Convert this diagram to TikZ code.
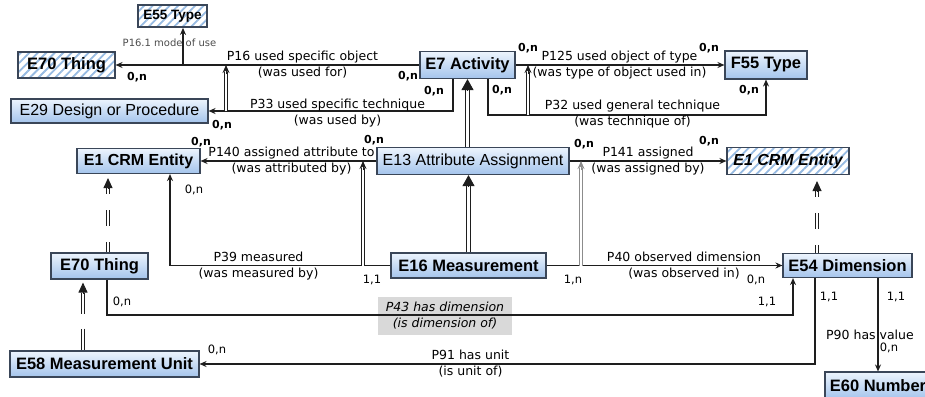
\documentclass[tikz,border=0pt]{standalone}
\usepackage{fontspec}
\setmainfont{Liberation Sans}
\newfontfamily\dv{DejaVu Sans}
\usetikzlibrary{arrows.meta,patterns.meta,calc}
\definecolor{boxtop}{RGB}{236,244,253}
\definecolor{boxbot}{RGB}{164,196,236}
\definecolor{boxline}{RGB}{58,70,88}
\definecolor{hatchc}{RGB}{150,186,226}
\definecolor{lblgray}{RGB}{217,217,217}
\definecolor{linec}{RGB}{30,30,30}
\begin{document}
\begin{tikzpicture}[x=1pt,y=-1pt,
  ent/.style={draw=boxline, line width=1.1pt, top color=boxtop, bottom color=boxbot,
    inner sep=0pt, font=\fontsize{16}{18}\selectfont},
  entb/.style={ent, font=\fontsize{16.5}{18}\selectfont\bfseries},
  hatb/.style={draw=boxline, line width=1.1pt, preaction={fill=white},
    pattern={Lines[angle=45,distance=6pt,line width=1.8pt]}, pattern color=hatchc,
    inner sep=0pt, font=\fontsize{16.5}{18}\selectfont\bfseries},
  con/.style={draw=linec, line width=1.2pt},
  arr/.style={con, -{Stealth[length=7pt,width=6pt]}},
  sub/.style={draw=linec, line width=1pt, double=white, double distance=2.4pt},
  subtip/.style={draw=linec, line width=1pt, -{Stealth[length=8pt,width=7pt]}},
  thk/.style={draw=linec, line width=1.4pt, double=white, double distance=2.6pt},
  thktip/.style={draw=linec, line width=1pt, -{Triangle[length=11pt,width=12pt]}},
  isa/.style={draw=linec, line width=1pt, double=white, double distance=2.2pt,
    dash pattern=on 16pt off 16pt},
  isatip/.style={draw=linec, line width=1pt, -{Triangle[length=10pt,width=9pt]}},
  lbl/.style={font=\dv\fontsize{12.5}{16}\selectfont, align=center, inner sep=0pt},
  card/.style={font=\dv\fontsize{11.5}{13}\selectfont, inner sep=0pt},
  cardb/.style={font=\dv\bfseries\fontsize{11}{13}\selectfont, inner sep=0pt}]
\useasboundingbox (0,0) rectangle (925,396);

% ---------- entity boxes ----------
\node[hatb, minimum width=69pt, minimum height=22pt, font=\fontsize{13.5}{15}\selectfont\bfseries] (E55) at (172.5,16) {E55 Type};
\node[hatb, minimum width=97pt, minimum height=26pt] (E70a) at (66.5,65) {E70 Thing};
\node[entb, minimum width=95pt, minimum height=27pt] (E7) at (467.5,65) {E7 Activity};
\node[entb, minimum width=82pt, minimum height=28pt] (F55) at (766,65) {F55 Type};
\node[ent, minimum width=197pt, minimum height=24pt] (E29) at (109.5,111) {E29 Design or Procedure};
\node[entb, minimum width=123pt, minimum height=25pt, font=\fontsize{16}{18}\selectfont\bfseries] (E1a) at (138.5,161) {E1 CRM Entity};
\node[ent, minimum width=192pt, minimum height=27pt] (E13) at (473,161) {E13 Attribute Assignment};
\node[hatb, minimum width=122pt, minimum height=27pt, font=\fontsize{16}{18}\selectfont\bfseries\itshape] (E1b) at (788,161) {E1 CRM Entity};
\node[entb, minimum width=97pt, minimum height=26pt] (E70b) at (99.5,266) {E70 Thing};
\node[entb, minimum width=155pt, minimum height=25pt] (E16) at (468.5,265.5) {E16 Measurement};
\node[entb, minimum width=129pt, minimum height=24pt] (E54) at (847.5,265.5) {E54 Dimension};
\node[entb, minimum width=189pt, minimum height=26pt] (E58) at (104.5,364) {E58 Measurement Unit};
\node[entb, minimum width=106pt, minimum height=27pt] (E60) at (878,385.5) {E60 Number};

% ---------- P43 grey label (below its line) ----------
\node[lbl, fill=lblgray, minimum width=134pt, minimum height=38pt, font=\dv\itshape\fontsize{12.5}{16}\selectfont] (L43) at (445,316) {P43 has dimension\\(is dimension of)};

% ---------- connectors ----------
% P16 and P16.1
\draw[arr] (E7.west) -- (E70a.east);
\coordinate (p161) at (183,65);
\draw[arr] (p161) -- (p161 |- E55.south);
% P33
\coordinate (p33s) at ([xshift=-14.5pt]E7.south);
\draw[arr] (p33s) |- (E29.east);
% P33 sub-property of P16
\coordinate (s1b) at (226,111);
\coordinate (s1t) at (226,65);
\draw[sub] (s1b) -- ($(s1t)+(0,7)$);
\draw[subtip] ($(s1t)+(0,9)$) -- (s1t);
% P125
\draw[arr] (E7.east) -- (F55.west);
% P32
\coordinate (p32s) at ([xshift=20.5pt]E7.south);
\coordinate (p32y) at (0,115);
\draw[arr] (p32s) |- (p32y -| F55.south) -- (F55.south);
% P32 sub-property of P125
\coordinate (s2b) at (528,115);
\coordinate (s2t) at (528,65);
\draw[sub] (s2b) -- ($(s2t)+(0,7)$);
\draw[subtip] ($(s2t)+(0,9)$) -- (s2t);
% E13 is-a E7
\coordinate (t1b) at (E13.north -| E7.south);
\draw[thk] (t1b) -- ($(E7.south)+(0,9)$);
\draw[thktip] ($(E7.south)+(0,11)$) -- (E7.south);
% E16 is-a E13
\coordinate (t2t) at (E13.south -| E16.north);
\draw[thk] (E16.north) -- ($(t2t)+(0,9)$);
\draw[thktip] ($(t2t)+(0,11)$) -- (t2t);
% P140
\draw[arr] (E13.west) -- (E1a.east);
% P39
\coordinate (p39t) at ([xshift=31.5pt]E1a.south);
\draw[arr] (E16.west) -| (p39t);
% P39 sub-property of P140
\coordinate (s3b) at (363,265.5);
\coordinate (s3t) at (363,161);
\draw[sub] (s3b) -- ($(s3t)+(0,7)$);
\draw[subtip] ($(s3t)+(0,9)$) -- (s3t);
% P141
\draw[arr] (E13.east) -- (E1b.west);
% P40
\draw[arr] (E16.east) -- (E54.west);
% P40 sub-property of P141 (grey)
\coordinate (s4b) at (581,265.5);
\coordinate (s4t) at (581,161);
\draw[sub, draw=black!45] (s4b) -- ($(s4t)+(0,7)$);
\draw[subtip, draw=black!45] ($(s4t)+(0,9)$) -- (s4t);
% E70 is-a E1
\coordinate (i1b) at ([xshift=8.5pt]E70b.north);
\coordinate (i1t) at ($(E1a.south -| i1b)+(0,4)$);
\draw[isa, dash phase=10pt] ($(i1t)+(0,10)$) -- (i1b);
\draw[isatip] ($(i1t)+(0,10)$) -- (i1t);
% E58 is-a E70
\coordinate (i2b) at ([xshift=-21.5pt]E58.north);
\coordinate (i2t) at ($(E70b.south -| i2b)+(0,3)$);
\draw[isa, dash pattern=on 21pt off 15pt] ($(i2t)+(0,10)$) -- (i2b);
\draw[isatip] ($(i2t)+(0,11)$) -- (i2t);
% E54 is-a E1
\coordinate (i3b) at ([xshift=-30.5pt]E54.north);
\coordinate (i3t) at ($(E1b.south -| i3b)+(0,6)$);
\draw[isa, dash phase=10pt] ($(i3t)+(0,10)$) -- (i3b);
\draw[isatip] ($(i3t)+(0,11)$) -- (i3t);
% P43
\coordinate (p43s) at ([xshift=7.5pt]E70b.south);
\coordinate (p43t) at ([xshift=-54.5pt]E54.south);
\coordinate (p43y) at (0,315);
\draw[arr] (p43s) |- (p43y -| p43t) -- (p43t);
% P91
\coordinate (p91s) at ([xshift=-32.5pt]E54.south);
\draw[arr] (p91s) |- (E58.east);
% P90
\draw[arr] (E60.north |- E54.south) -- (E60.north);

% ---------- connector labels ----------
\node[font=\dv\fontsize{10}{12}\selectfont, text=black!70, inner sep=0pt] (L161) at (169.5,43) {P16.1 mode of use};
\node[lbl] (L16) at (302.5,65) {P16 used specific object\\(was used for)};
\node[lbl] (L33) at (337.5,113) {P33 used specific technique\\(was used by)};
\node[lbl] (L125) at (619.5,65) {P125 used object of type\\(was type of object used in)};
\node[lbl] (L32) at (632.5,114.5) {P32 used general technique\\(was technique of)};
\node[lbl] (L140) at (291.5,161) {P140 assigned attribute to\\(was attributed by)};
\node[lbl] (L141) at (648,161) {P141 assigned\\(was assigned by)};
\node[lbl] (L39) at (258.5,266) {P39 measured\\(was measured by)};
\node[lbl] (L40) at (684,266) {P40 observed dimension\\(was observed in)};
\node[lbl] (L91) at (470.5,363.5) {P91 has unit\\(is unit of)};
\node[lbl] (L90) at (870,335) {P90 has value};

% ---------- cardinalities ----------
\node[cardb] (c1) at (137,77) {0,n};
\node[cardb] (c2) at (408,76) {0,n};
\node[cardb] (c3) at (222,125) {0,n};
\node[cardb] (c4) at (434,91) {0,n};
\node[cardb] (c5) at (502,90) {0,n};
\node[cardb] (c6) at (528,48) {0,n};
\node[cardb] (c7) at (709,48) {0,n};
\node[cardb] (c8) at (749,90) {0,n};
\node[cardb] (c9) at (201,142) {0,n};
\node[card] (c10) at (194,190) {0,n};
\node[cardb] (c11) at (374,140) {0,n};
\node[cardb] (c12) at (584,144) {0,n};
\node[cardb] (c13) at (709,141) {0,n};
\node[card] (c14) at (372,280) {1,1};
\node[card] (c15) at (573,280) {1,n};
\node[card] (c16) at (756,280) {0,n};
\node[card] (c17) at (767,302) {1,1};
\node[card] (c18) at (829,297) {1,1};
\node[card] (c19) at (896,297) {1,1};
\node[card] (c20) at (122,302) {0,n};
\node[card] (c21) at (217,350) {0,n};
\node[card] (c22) at (889,348) {0,n};
\end{tikzpicture}
\end{document}
